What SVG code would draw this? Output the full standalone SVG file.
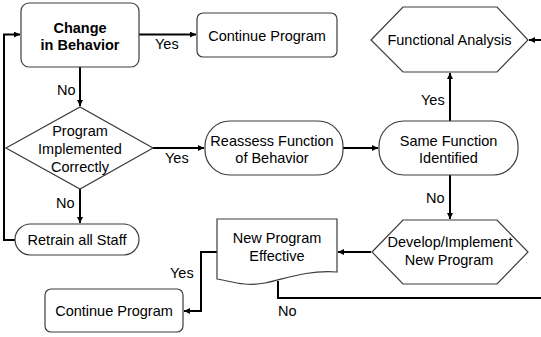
<svg xmlns="http://www.w3.org/2000/svg" width="541" height="337" viewBox="0 0 541 337">
<defs>
<marker id="ah" markerUnits="userSpaceOnUse" markerWidth="7" markerHeight="6" refX="6" refY="3" orient="auto">
<path d="M0,0 L6,3 L0,6 z" fill="#000"/>
</marker>
<style>
.n{fill:#fff;stroke:#3c3c3c;stroke-width:1.2}
.t{font-family:"Liberation Sans",Arial,sans-serif;font-size:14.5px;fill:#000;text-anchor:middle}
.b{font-weight:bold}
.l{font-family:"Liberation Sans",Arial,sans-serif;font-size:14.5px;fill:#000}
.c{fill:none;stroke:#000;stroke-width:2}
.a{marker-end:url(#ah)}
</style>
</defs>
<rect width="541" height="337" fill="#fff"/>
<g id="connectors">
<path class="c a" d="M139,34.5 H196"/>
<path class="c a" d="M80,67 V106"/>
<path class="c a" d="M153,148 H204"/>
<path class="c a" d="M80,189 V223"/>
<path class="c a" d="M15,240 H4 V34.5 H20"/>
<path class="c a" d="M343,148 H378"/>
<path class="c a" d="M450,121 V73"/>
<path class="c a" d="M450,175 V219"/>
<path class="c a" d="M371,252 H338"/>
<path class="c a" d="M217,252 H201 V311 H184"/>
<path class="c" d="M278,281 V298 H541"/>
<path class="c a" d="M541,40 H529"/>
<text class="l" x="155" y="49">Yes</text>
<text class="l" x="57" y="95">No</text>
<text class="l" x="165" y="163">Yes</text>
<text class="l" x="56" y="208">No</text>
<text class="l" x="421" y="105">Yes</text>
<text class="l" x="426" y="203">No</text>
<text class="l" x="170" y="278">Yes</text>
<text class="l" x="278" y="316">No</text>
</g>
<g id="change">
<rect class="n" x="21" y="3" width="118" height="64" rx="8"/>
<text class="t b" x="80" y="33">Change</text>
<text class="t b" x="80" y="49.5">in Behavior</text>
</g>
<g id="continue1">
<rect class="n" x="197" y="13" width="140" height="44" rx="6"/>
<text class="t" x="267" y="41">Continue Program</text>
</g>
<g id="functional">
<polygon class="n" points="371,40 403,7 497,7 528,40 497,72 403,72"/>
<text class="t" x="449.5" y="44.5">Functional Analysis</text>
</g>
<g id="implemented">
<polygon class="n" points="6,148 80,107 153,148 80,189"/>
<text class="t" x="80" y="136">Program</text>
<text class="t" x="80" y="154">Implemented</text>
<text class="t" x="80" y="172">Correctly</text>
</g>
<g id="reassess">
<rect class="n" x="205" y="121" width="138" height="54" rx="25"/>
<text class="t" x="272" y="146">Reassess Function</text>
<text class="t" x="272" y="163">of Behavior</text>
</g>
<g id="same">
<rect class="n" x="379" y="121" width="139" height="54" rx="25"/>
<text class="t" x="448.5" y="146">Same Function</text>
<text class="t" x="448.5" y="163">Identified</text>
</g>
<g id="retrain">
<rect class="n" x="15" y="224" width="124" height="31" rx="15.5"/>
<text class="t" x="77" y="244.5">Retrain all Staff</text>
</g>
<g id="develop">
<polygon class="n" points="372,252 403,220 497,220 528,252 497,284 403,284"/>
<text class="t" x="450" y="247">Develop/Implement</text>
<text class="t" x="449" y="265">New Program</text>
</g>
<g id="effective">
<path class="n" d="M217,219 H337 V272 C305,270 285,279 265,283 C245,287 230,281 217,279 Z"/>
<text class="t" x="277" y="243">New Program</text>
<text class="t" x="277" y="261">Effective</text>
</g>
<g id="continue2">
<rect class="n" x="45" y="289" width="138" height="43" rx="6"/>
<text class="t" x="114" y="316">Continue Program</text>
</g>
</svg>
